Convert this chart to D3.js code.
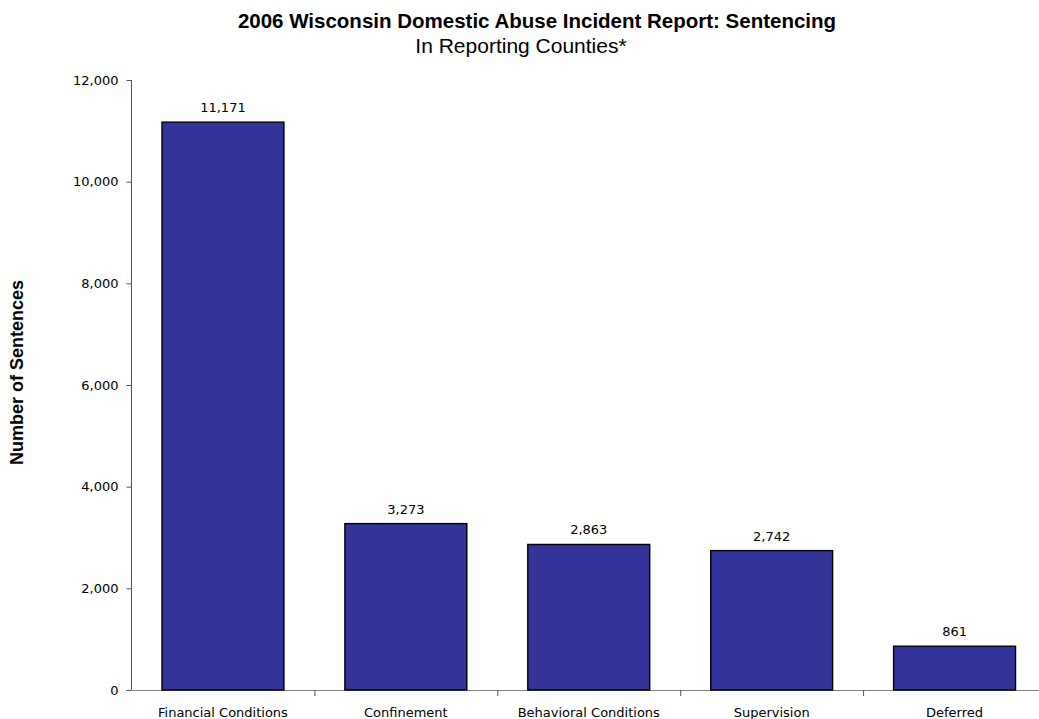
<!DOCTYPE html>
<html>
<head>
<meta charset="utf-8">
<script src="https://cdn.jsdelivr.net/npm/d3@7"></script>
<style>
  html, body { margin: 0; padding: 0; background: #fff; }
  svg { display: block; }
</style>
</head>
<body>
<svg id="chart" width="1039" height="719"></svg>
<script>
const categories = ["Financial Conditions", "Confinement", "Behavioral Conditions", "Supervision", "Deferred"];
const values = [11171, 3273, 2863, 2742, 861];
const yTicks = [0, 2000, 4000, 6000, 8000, 10000, 12000];
const titleText = "2006 Wisconsin Domestic Abuse Incident Report: Sentencing";
const subtitleText = "In Reporting Counties*";
const yLabel = "Number of Sentences";

(function () {
const svg = d3.select("#chart");
const mLeft = 131.5, mRight = 1046, mTop = 80, mBottom = 690;
const fmt = d3.format(",");

const x = d3.scaleBand().domain(categories).range([mLeft, mRight]).paddingInner(1/3).paddingOuter(1/6);
const y = d3.scaleLinear().domain([0, 12000]).range([mBottom, mTop]);

const tickFont = "'DejaVu Sans', Verdana, sans-serif";

// Title
svg.append("text").attr("x", 537).attr("y", 28).attr("text-anchor", "middle")
  .attr("font-family", "'Liberation Sans', Arial, sans-serif").attr("font-weight", "bold")
  .attr("font-size", 20.5).attr("fill", "#000").text(titleText);
svg.append("text").attr("x", 521).attr("y", 53).attr("text-anchor", "middle")
  .attr("font-family", "'Liberation Sans', Arial, sans-serif")
  .attr("font-size", 21).attr("fill", "#000").text(subtitleText);

// Y label
svg.append("text").attr("transform", "translate(23,372.5) rotate(-90)").attr("text-anchor", "middle")
  .attr("font-family", "'Liberation Sans', Arial, sans-serif").attr("font-weight", "bold")
  .attr("font-size", 18).attr("fill", "#000").text(yLabel);

// Y axis
const yAxis = d3.axisLeft(y).tickValues(yTicks).tickFormat(fmt).tickSize(5).tickPadding(8);
const gy = svg.append("g").attr("transform", `translate(${mLeft},0)`).call(yAxis);
gy.select(".domain").attr("stroke", "#555").attr("d", `M0,${mTop}V${mBottom}`);
gy.selectAll(".tick line").attr("stroke", "#555");
gy.selectAll(".tick text").attr("font-family", tickFont).attr("font-size", 13).attr("fill", "#000");

// X axis line
svg.append("line").attr("x1", mLeft).attr("x2", 1039).attr("y1", y(0) + 0.5).attr("y2", y(0) + 0.5)
  .attr("stroke", "#808080").attr("stroke-width", 1.2);
// category boundary ticks
svg.selectAll(".xtick").data(categories.slice(1)).enter().append("line")
  .attr("x1", d => x(d) - x.step() * x.paddingInner() / 2 + 0.5)
  .attr("x2", d => x(d) - x.step() * x.paddingInner() / 2 + 0.5)
  .attr("y1", y(0)).attr("y2", y(0) + 6).attr("stroke", "#555");

// Bars
svg.selectAll(".bar").data(values).enter().append("rect")
  .attr("x", (d, i) => x(categories[i]))
  .attr("y", d => y(d))
  .attr("width", x.bandwidth())
  .attr("height", d => y(0) - y(d))
  .attr("fill", "#333399").attr("stroke", "#000").attr("stroke-width", 1.4);

// Value labels
svg.selectAll(".val").data(values).enter().append("text")
  .attr("x", (d, i) => x(categories[i]) + x.bandwidth() / 2)
  .attr("y", d => y(d) - 10)
  .attr("text-anchor", "middle").attr("font-family", tickFont).attr("font-size", 13).attr("fill", "#000")
  .text(d => fmt(d));

// Category labels
svg.selectAll(".cat").data(categories).enter().append("text")
  .attr("x", d => x(d) + x.bandwidth() / 2)
  .attr("y", 717)
  .attr("text-anchor", "middle").attr("font-family", tickFont).attr("font-size", 13).attr("fill", "#000")
  .text(d => d);
})();
</script>
</body>
</html>
